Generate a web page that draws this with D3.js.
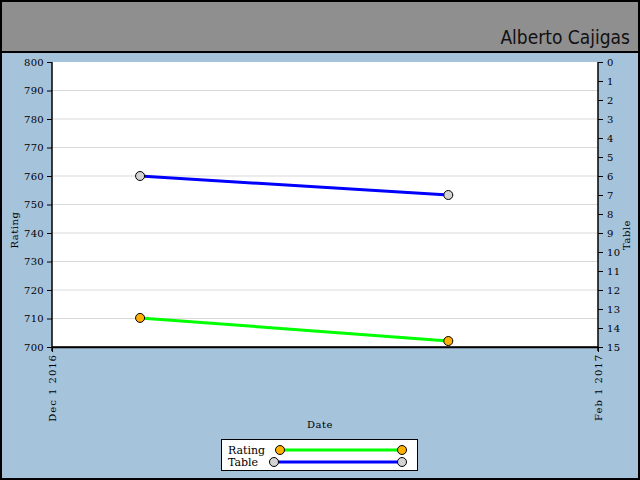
<!DOCTYPE html>
<html>
<head>
<meta charset="utf-8">
<script src="https://cdn.jsdelivr.net/npm/d3@7"></script>
<style>
  body { margin: 0; }
  svg text { font-family: "DejaVu Serif", serif; font-size: 10px; fill: #000; }
</style>
</head>
<body>
<div id="chart"></div>
<script>
// data
var dates = ["2016-12-11", "2017-01-15"];
var ratingValues = [710.2, 702.1];
var tableValues = [6, 7];
var ratingTicks = [700, 710, 720, 730, 740, 750, 760, 770, 780, 790, 800];
var tableTicks = [0, 1, 2, 3, 4, 5, 6, 7, 8, 9, 10, 11, 12, 13, 14, 15];
var xDomain = ["2016-12-01", "2017-02-01"];
var xTickLabels = ["Dec 1 2016", "Feb 1 2017"];

var svgWidth = 640, svgHeight = 480;
var margin = { top: 62, right: 42, bottom: 133, left: 52 };
var width = svgWidth - margin.left - margin.right;
var height = svgHeight - margin.top - margin.bottom;

var parse = d3.timeParse("%Y-%m-%d");

var svg = d3.select("#chart").append("svg")
  .attr("width", svgWidth).attr("height", svgHeight);

// background + header
svg.append("rect").attr("x", 1).attr("y", 1).attr("width", svgWidth - 2).attr("height", svgHeight - 2)
  .attr("fill", "#a6c3dc").attr("stroke", "#000").attr("stroke-width", 2);
svg.append("rect").attr("x", 1).attr("y", 1).attr("width", svgWidth - 2).attr("height", 51)
  .attr("fill", "#8f8f8f").attr("stroke", "#000").attr("stroke-width", 2);
svg.append("text").attr("x", 630).attr("y", 44).attr("text-anchor", "end")
  .style("font-family", "'DejaVu Sans Condensed', 'DejaVu Sans', sans-serif").style("font-size", "19px")
  .style("fill", "#111")
  .text("Alberto Cajigas");

var chartGroup = svg.append("g").attr("transform", `translate(${margin.left}, ${margin.top})`);

chartGroup.append("rect").attr("width", width).attr("height", height).attr("fill", "#fff");

// scales
var xScale = d3.scaleTime().domain(xDomain.map(parse)).range([0, width]);
var yRating = d3.scaleLinear().domain([700, 800]).range([height, 0]);
var yTable = d3.scaleLinear().domain([0, 15]).range([0, height]);

// grid
chartGroup.selectAll("line.grid")
  .data(ratingTicks.slice(1, -1))
  .enter().append("line")
  .attr("x1", 0).attr("x2", width)
  .attr("y1", d => yRating(d)).attr("y2", d => yRating(d))
  .attr("stroke", "#d9d9d9").attr("stroke-width", 1);

// axes
var leftAxis = chartGroup.append("g")
  .call(d3.axisLeft(yRating).tickValues(ratingTicks).tickSize(5).tickPadding(3).tickSizeOuter(0));
var rightAxis = chartGroup.append("g")
  .attr("transform", `translate(${width}, 0)`)
  .call(d3.axisRight(yTable).tickValues(tableTicks).tickSize(5).tickPadding(4).tickSizeOuter(0));
var bottomAxis = chartGroup.append("g")
  .attr("transform", `translate(0, ${height})`)
  .call(d3.axisBottom(xScale).tickValues(xDomain.map(parse)).tickSize(5).tickSizeOuter(0)
    .tickFormat((d, i) => xTickLabels[i]));

[leftAxis, rightAxis, bottomAxis].forEach(a => {
  a.select(".domain").attr("stroke", "#000").attr("stroke-width", 1.5);
  a.selectAll(".tick line").attr("stroke", "#000");
  a.selectAll("text").style("font-family", "'DejaVu Serif', serif").style("font-size", "10px")
    .style("letter-spacing", "0.3px");
});
// extend left/right axes through the bottom tick a bit
leftAxis.select(".domain").attr("d", `M0,0V${height + 4}`);
rightAxis.select(".domain").attr("d", `M0,0V${height + 4}`);
chartGroup.append("line").attr("x1", 0).attr("x2", width).attr("y1", height).attr("y2", height)
  .attr("stroke", "#000").attr("stroke-width", 1.5);

bottomAxis.selectAll(".tick text")
  .attr("transform", "rotate(-90)")
  .attr("text-anchor", "end")
  .attr("x", -7).attr("y", 0).attr("dy", "0.35em")
  .style("letter-spacing", "1px");

// axis titles
svg.append("text").attr("transform", "translate(18, 230) rotate(-90)")
  .attr("text-anchor", "middle").style("letter-spacing", "0.5px").text("Rating");
svg.append("text").attr("transform", "translate(630, 235) rotate(-90)")
  .attr("text-anchor", "middle").style("letter-spacing", "0.5px").text("Table");
svg.append("text").attr("x", 320).attr("y", 428).attr("text-anchor", "middle")
  .style("letter-spacing", "0.5px").text("Date");

// series
var ratingData = dates.map((d, i) => ({ date: parse(d), value: ratingValues[i] }));
var tableData = dates.map((d, i) => ({ date: parse(d), value: tableValues[i] }));

var ratingLine = d3.line().x(d => xScale(d.date)).y(d => yRating(d.value));
var tableLine = d3.line().x(d => xScale(d.date)).y(d => yTable(d.value));

chartGroup.append("path").datum(tableData).attr("d", tableLine)
  .attr("fill", "none").attr("stroke", "#0000ff").attr("stroke-width", 3);
chartGroup.append("path").datum(ratingData).attr("d", ratingLine)
  .attr("fill", "none").attr("stroke", "#00ff00").attr("stroke-width", 3);

chartGroup.selectAll("circle.table").data(tableData).enter().append("circle")
  .attr("cx", d => xScale(d.date)).attr("cy", d => yTable(d.value)).attr("r", 4.5)
  .attr("fill", "#d3d3d3").attr("stroke", "#000").attr("stroke-width", 1);
chartGroup.selectAll("circle.rating").data(ratingData).enter().append("circle")
  .attr("cx", d => xScale(d.date)).attr("cy", d => yRating(d.value)).attr("r", 4.5)
  .attr("fill", "#ffb000").attr("stroke", "#000").attr("stroke-width", 1);

// legend
var legend = svg.append("g");
legend.append("rect").attr("x", 221.5).attr("y", 439.5).attr("width", 196).attr("height", 31)
  .attr("fill", "#fff").attr("stroke", "#000").attr("stroke-width", 1);
var legendItems = [
  { name: "Rating", color: "#00ff00", fill: "#ffb000", y: 450, x1: 280 },
  { name: "Table", color: "#0000ff", fill: "#d3d3d3", y: 462, x1: 274 }
];
legendItems.forEach(d => {
  legend.append("text").attr("x", 228).attr("y", d.y + 4).style("font-size", "11px").text(d.name);
  legend.append("line").attr("x1", d.x1).attr("x2", 402).attr("y1", d.y).attr("y2", d.y)
    .attr("stroke", d.color).attr("stroke-width", 3);
  [d.x1, 402].forEach(cx => {
    legend.append("circle").attr("cx", cx).attr("cy", d.y).attr("r", 4.5)
      .attr("fill", d.fill).attr("stroke", "#000").attr("stroke-width", 1);
  });
});
</script>
</body>
</html>
